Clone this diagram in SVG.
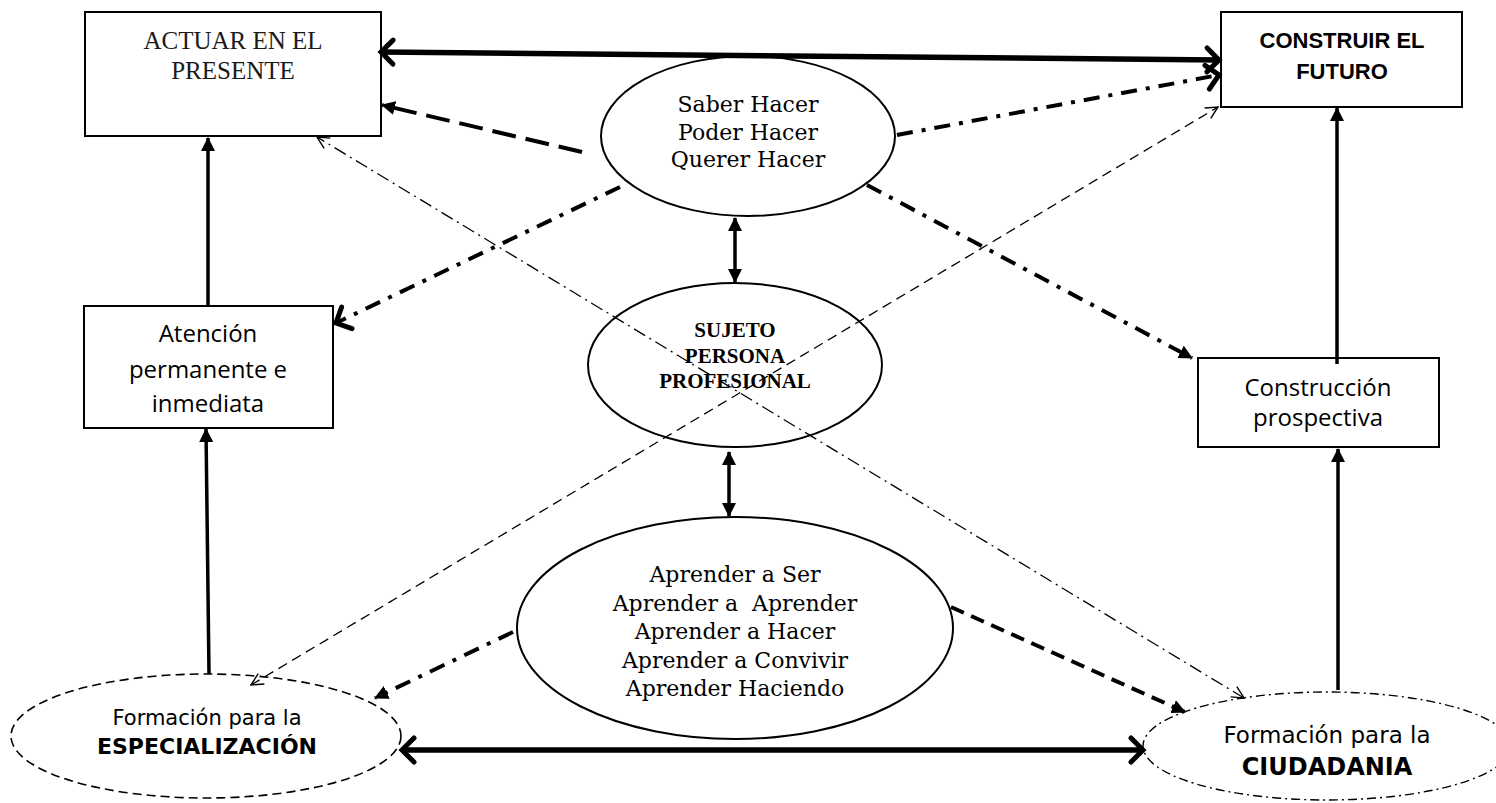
<svg xmlns="http://www.w3.org/2000/svg" width="1496" height="803" viewBox="0 0 1496 803">
<style>
.box{fill:#fff;stroke:#000;stroke-width:2}
.ell{fill:none;stroke:#000;stroke-width:2}
.ell-f{fill:#fff;stroke:#000;stroke-width:2}
.ell-dash{fill:#fff;stroke:#000;stroke-width:1.6;stroke-dasharray:9 5}
.ell-dd{fill:#fff;stroke:#000;stroke-width:1.4;stroke-dasharray:9 4 2 4}
.ln{fill:none;stroke:#000;stroke-linecap:butt}
.heavy{stroke-width:5.5}
.solid{stroke-width:3.5}
.longdash{stroke-width:4;stroke-dasharray:24 10}
.dashdot{stroke-width:4;stroke-dasharray:16 9 4 9}
.dash{stroke-width:4;stroke-dasharray:14 8}
.thin-dd{stroke-width:1.3;stroke-dasharray:13 5 2 5}
.thin-dash{stroke-width:1.3;stroke-dasharray:10 6}
.t-gar{font-family:"Liberation Serif",serif;font-size:25px;fill:#1a1a1a;text-anchor:middle}
.t-book{font-family:"DejaVu Serif","Liberation Serif",serif;font-size:22px;fill:#000;text-anchor:middle}
.t-bold-serif{font-family:"Liberation Serif",serif;font-size:21px;font-weight:bold;fill:#000;text-anchor:middle}
.t-sansb{font-family:"Liberation Sans",sans-serif;font-size:22px;font-weight:bold;fill:#000;text-anchor:middle}
.t-cal{font-family:"Open Sans","Liberation Sans",sans-serif;font-size:24px;fill:#000;text-anchor:middle}
.t-comic{font-family:"DejaVu Sans",sans-serif;fill:#000;text-anchor:middle}
</style>
<defs>
<marker id="tri" viewBox="0 0 14 14" refX="13" refY="7" markerWidth="14" markerHeight="14" markerUnits="userSpaceOnUse" orient="auto-start-reverse"><path d="M0,0 L14,7 L0,14 Z" fill="#000"/></marker>
<marker id="chev" viewBox="0 0 18 30" refX="15" refY="15" markerWidth="18" markerHeight="30" markerUnits="userSpaceOnUse" orient="auto-start-reverse" overflow="visible"><path d="M3,3 L15,15 L3,27" fill="none" stroke="#000" stroke-width="5" stroke-linecap="round" stroke-linejoin="miter"/></marker>
<marker id="chevthin" viewBox="0 0 14 14" refX="13" refY="7" markerWidth="14" markerHeight="14" markerUnits="userSpaceOnUse" orient="auto-start-reverse" overflow="visible"><path d="M1,1 L13,7 L1,13" fill="none" stroke="#000" stroke-width="1.4"/></marker>
</defs>
<rect width="1496" height="803" fill="#fff"/>

<g id="node-actuar">
<rect class="box" x="85" y="12" width="296" height="124"/>
<text class="t-gar" x="233" y="49">ACTUAR EN EL</text>
<text class="t-gar" x="233" y="79">PRESENTE</text>
</g>

<g id="node-construir">
<rect class="box" x="1221" y="12" width="241" height="95"/>
<text class="t-sansb" x="1342" y="48">CONSTRUIR EL</text>
<text class="t-sansb" x="1342" y="79">FUTURO</text>
</g>

<g id="node-saber">
<ellipse class="ell-f" cx="748" cy="136" rx="147" ry="80"/>
<text class="t-book" x="748" y="112">Saber Hacer</text>
<text class="t-book" x="748" y="140">Poder Hacer</text>
<text class="t-book" x="748" y="167">Querer Hacer</text>
</g>

<g id="node-atencion">
<rect class="box" x="84" y="306" width="249" height="122"/>
<text class="t-cal" x="208" y="342">Atención</text>
<text class="t-cal" x="208" y="378">permanente e</text>
<text class="t-cal" x="208" y="412">inmediata</text>
</g>

<g id="node-sujeto">
<ellipse class="ell" cx="735" cy="365" rx="147" ry="82"/>
<text class="t-bold-serif" x="735" y="337">SUJETO</text>
<text class="t-bold-serif" x="735" y="363">PERSONA</text>
<text class="t-bold-serif" x="735" y="388">PROFESIONAL</text>
</g>

<g id="node-construccion">
<rect class="box" x="1198" y="358" width="241" height="89"/>
<text class="t-cal" x="1318" y="396">Construcción</text>
<text class="t-cal" x="1318" y="426">prospectiva</text>
</g>

<g id="node-aprender">
<ellipse class="ell-f" cx="735" cy="628" rx="218" ry="111"/>
<text class="t-book" x="735" y="582">Aprender a Ser</text>
<text class="t-book" x="735" y="611" xml:space="preserve">Aprender a  Aprender</text>
<text class="t-book" x="735" y="639">Aprender a Hacer</text>
<text class="t-book" x="735" y="668">Aprender a Convivir</text>
<text class="t-book" x="735" y="696">Aprender Haciendo</text>
</g>

<g id="node-especializacion">
<ellipse class="ell-dash" cx="206" cy="736" rx="195" ry="62"/>
<text class="t-comic" x="207" y="725" font-size="21">Formación para la</text>
<text class="t-comic" x="207" y="754" font-size="22" font-weight="bold">ESPECIALIZACIÓN</text>
</g>

<g id="node-ciudadania">
<ellipse class="ell-dd" cx="1327" cy="746" rx="184" ry="54"/>
<text class="t-comic" x="1327" y="743" font-size="23">Formación para la</text>
<text class="t-comic" x="1327" y="775" font-size="24" font-weight="bold">CIUDADANIA</text>
</g>

<g id="connectors">
<path class="ln heavy" d="M381,52 L1219,60" marker-start="url(#chev)" marker-end="url(#chev)"/>
<path class="ln heavy" d="M402,750 L1143,750" marker-start="url(#chev)" marker-end="url(#chev)"/>
<path class="ln longdash" d="M582,152 L382,105" marker-end="url(#tri)"/>
<path class="ln dashdot" d="M620,187 L336,323" marker-end="url(#chev)"/>
<path class="ln dashdot" d="M897,135 L1219,75" marker-end="url(#chev)"/>
<path class="ln dashdot" d="M867,185 L1192,358" marker-end="url(#tri)"/>
<path class="ln solid" d="M735,218 L735,282" marker-start="url(#tri)" marker-end="url(#tri)"/>
<path class="ln solid" d="M729,452 L729,516" marker-start="url(#tri)" marker-end="url(#tri)"/>
<path class="ln dashdot" d="M513,632 L375,698" marker-end="url(#tri)"/>
<path class="ln dash" d="M951,607 L1185,712" marker-end="url(#tri)"/>
<path class="ln solid" d="M209,674 L206,429" marker-end="url(#tri)"/>
<path class="ln solid" d="M208,306 L208,138" marker-end="url(#tri)"/>
<path class="ln solid" d="M1338,690 L1338,449" marker-end="url(#tri)"/>
<path class="ln solid" d="M1337,364 L1337,108" marker-end="url(#tri)"/>
<path class="ln thin-dd" d="M1244,698 L317,137" marker-start="url(#chevthin)" marker-end="url(#chevthin)"/>
<path class="ln thin-dash" d="M251,685 L1218,107" marker-start="url(#chevthin)" marker-end="url(#chevthin)"/>
</g>
</svg>
